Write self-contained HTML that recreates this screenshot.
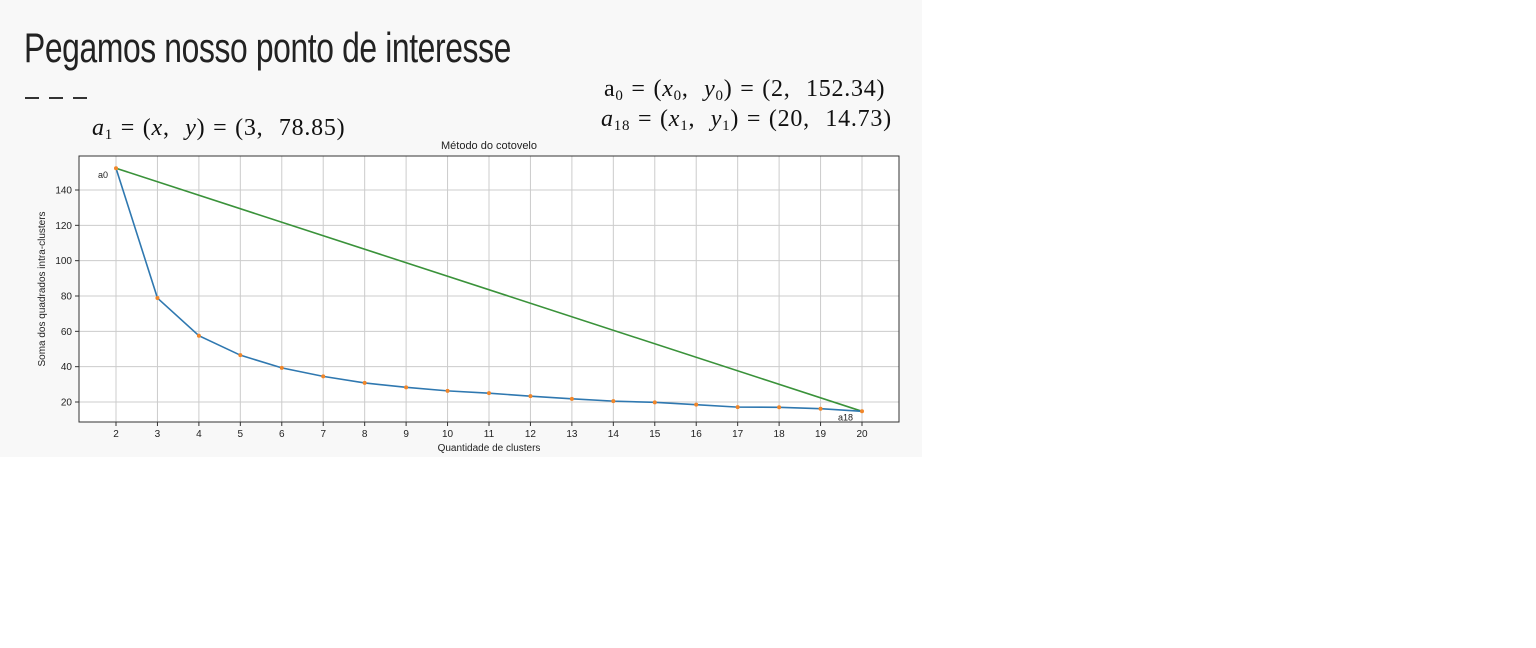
<!DOCTYPE html>
<html><head><meta charset="utf-8"><style>
body{margin:0;width:1536px;height:648px;background:#fff;overflow:hidden;font-family:"Liberation Sans",sans-serif}
#slide{position:absolute;left:0;top:0;width:922px;height:457px;background:#f8f8f8}
#title{position:absolute;left:24px;top:24px;font-size:42px;color:#222;transform:scaleX(0.758);transform-origin:left top;white-space:nowrap;letter-spacing:-0.5px}
.math{position:absolute;font-family:"Liberation Serif",serif;font-size:24px;letter-spacing:0.75px;word-spacing:1px;color:#111;white-space:nowrap}
i{font-style:italic}
sub{font-size:15px;vertical-align:-4px;line-height:0}
</style></head><body>
<div id="slide">
<div id="title">Pegamos nosso ponto de interesse</div>
<svg style="position:absolute;left:25px;top:96px" width="62" height="4"><path d="M0 2H14M24 2H38M48 2H62" stroke="#333" stroke-width="2"/></svg>
<div class="math" style="left:92px;top:115px"><i>a</i><sub>1</sub> = (<i>x</i>,&nbsp; <i>y</i>) = (3,&nbsp; 78.85)</div>
<div class="math" style="left:604px;top:76px">a<sub>0</sub> = (<i>x</i><sub>0</sub>,&nbsp; <i>y</i><sub>0</sub>) = (2,&nbsp; 152.34)</div>
<div class="math" style="left:601px;top:106px"><i>a</i><sub>18</sub> = (<i>x</i><sub>1</sub>,&nbsp; <i>y</i><sub>1</sub>) = (20,&nbsp; 14.73)</div>
<svg id="chart" style="position:absolute;left:0;top:0" width="922" height="457"></svg>
</div>
<script>
const categories=[2,3,4,5,6,7,8,9,10,11,12,13,14,15,16,17,18,19,20];
const wcss=[152.34,78.85,57.5,46.5,39.3,34.5,30.8,28.3,26.3,25.0,23.3,21.8,20.5,19.8,18.5,17.1,17.0,16.2,14.73];
const yTicks=[20,40,60,80,100,120,140];
const L=79,R=899,T=156,B=422;
const xs=v=>116+(v-2)*(862-116)/18;
const ys=v=>402-(v-20)*(212/120);
const svg=document.getElementById('chart');
const NS='http://www.w3.org/2000/svg';
function mk(t,a,txt){const e=document.createElementNS(NS,t);for(const k in a)e.setAttribute(k,a[k]);if(txt!=null)e.textContent=txt;svg.appendChild(e);return e;}
let e=mk('rect',{x:L,y:T,width:R-L,height:B-T,fill:'#fff'});


categories.forEach(c=>{const x=xs(c);
 e=mk('line',{x1:x,x2:x,y1:T,y2:B,stroke:'#ccc','stroke-width':1});
 
 
 e=mk('line',{x1:x,x2:x,y1:B,y2:B+4,stroke:'#333'});
 
 
 e=mk('text',{x:x,y:B+15,'font-size':10,'text-anchor':'middle',fill:'#222'},c);
 
 
});
yTicks.forEach(v=>{const y=ys(v);
 e=mk('line',{x1:L,x2:R,y1:y,y2:y,stroke:'#ccc','stroke-width':1});
 
 
 e=mk('line',{x1:L-4,x2:L,y1:y,y2:y,stroke:'#333'});
 
 
 e=mk('text',{x:L-7,y:y+3.5,'font-size':10,'text-anchor':'end',fill:'#222'},v);
 
 
});
e=mk('rect',{x:L,y:T,width:R-L,height:B-T,fill:'none',stroke:'#333','stroke-width':1});


const n=categories.length-1;
e=mk('line',{x1:xs(categories[0]),y1:ys(wcss[0]),x2:xs(categories[n]),y2:ys(wcss[n]),stroke:'#3a923a','stroke-width':1.6});


e=mk('polyline',{points:categories.map((c,i)=>xs(c)+','+ys(wcss[i])).join(' '),fill:'none',stroke:'#2f78b0','stroke-width':1.6});


categories.forEach((c,i)=>{
 e=mk('circle',{cx:xs(c),cy:ys(wcss[i]),r:2,fill:'#f0862a'});
 
 
});
e=mk('text',{x:xs(2)-18,y:ys(wcss[0])+10,'font-size':9,fill:'#222'},'a0');


e=mk('text',{x:xs(20)-24,y:ys(wcss[n])+9,'font-size':9,fill:'#222'},'a18');


e=mk('text',{x:489,y:149,'font-size':11,'text-anchor':'middle',fill:'#222'},'Método do cotovelo');


e=mk('text',{x:489,y:451,'font-size':10,'text-anchor':'middle',fill:'#222'},'Quantidade de clusters');


e=mk('text',{x:0,y:0,'font-size':10,'text-anchor':'middle',fill:'#222',transform:'translate(45,289) rotate(-90)'},'Soma dos quadrados intra-clusters');


</script>
</body></html>
